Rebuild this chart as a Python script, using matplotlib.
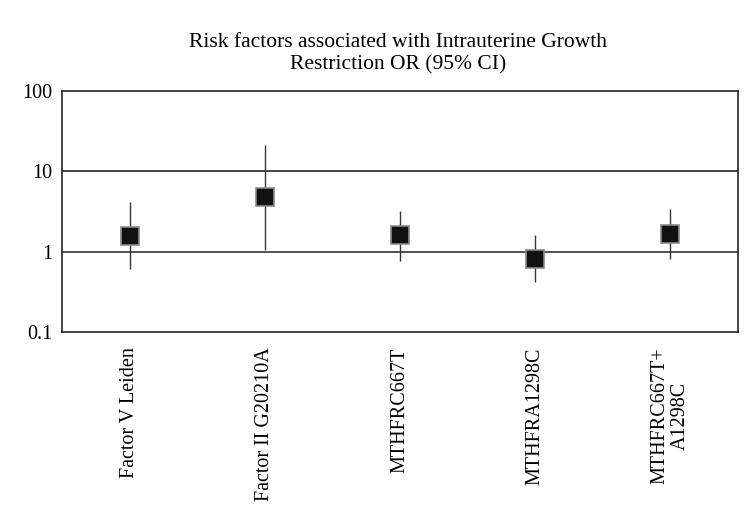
import matplotlib
matplotlib.use("Agg")
import matplotlib.pyplot as plt
import numpy as np

categories = ["Factor V Leiden", "Factor II G20210A", "MTHFRC667T", "MTHFRA1298C", "MTHFRC667T+\nA1298C"]
odds_ratio = [1.58, 4.8, 1.6, 0.82, 1.66]
ci_lower = [0.60, 1.05, 0.77, 0.42, 0.81]
ci_upper = [4.1, 21.0, 3.2, 1.6, 3.4]
yticks = [0.1, 1, 10, 100]
ytick_labels = ["0.1", "1", "10", "100"]

plt.rcParams['font.family'] = ['Liberation Serif', 'DejaVu Serif']

fig = plt.figure(figsize=(7.55, 5.19), dpi=100)
ax = fig.add_axes([62/755, 1-332/519, 676/755, 241/519])

x = np.arange(len(categories))
ax.axhline(1, color='#333333', lw=1.2, zorder=1)
ax.axhline(10, color='#222222', lw=1.2, zorder=1)
ax.vlines(x, ci_lower, ci_upper, color='#333333', lw=1.0, zorder=2)
ax.plot(x, odds_ratio, linestyle='none', marker='s', markersize=13.5,
        markerfacecolor='#111111', markeredgecolor='#8a8a8a', markeredgewidth=1.2, zorder=3)

ax.set_yscale('log')
ax.set_ylim(0.1, 100)
ax.set_xlim(-0.5, len(categories) - 0.5)
ax.set_yticks(yticks)
ax.set_yticklabels(ytick_labels, fontsize=14.5)
ax.minorticks_off()
ax.tick_params(axis='y', length=0, pad=7)
ax.set_xticks(x)
ax.set_xticklabels(categories, rotation=90, fontsize=14.5, va='top', ha='center', linespacing=1.1)
ax.tick_params(axis='x', length=0, pad=11)
for s in ax.spines.values():
    s.set_color('#222222')
    s.set_linewidth(1.2)

fig.text(398/755, 1-54/519, "Risk factors associated with Intrauterine Growth\nRestriction OR (95% CI)",
         ha='center', va='center', fontsize=15.5, linespacing=1.25)

fig.savefig("out.png", dpi=100)
